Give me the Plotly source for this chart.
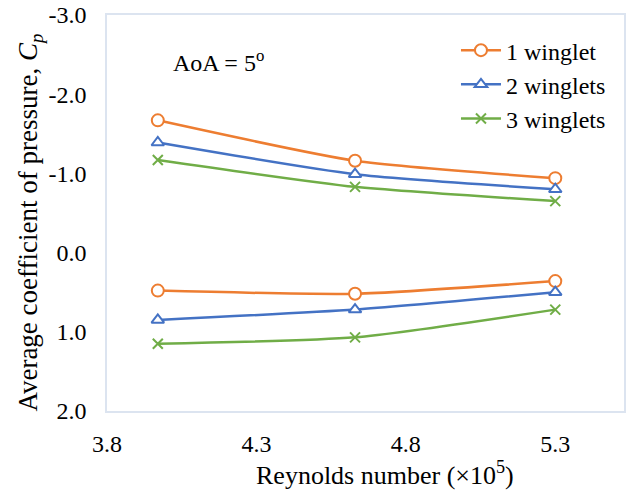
import plotly.graph_objects as go

reynolds = [3.97, 4.63, 5.30]
series_names = ["1 winglet", "2 winglets", "3 winglets"]
upper_1 = [-1.67, -1.16, -0.94]
upper_2 = [-1.39, -0.99, -0.80]
upper_3 = [-1.17, -0.83, -0.65]
lower_1 = [0.48, 0.52, 0.36]
lower_2 = [0.85, 0.72, 0.50]
lower_3 = [1.15, 1.07, 0.72]
x_ticks = [3.8, 4.3, 4.8, 5.3]
x_ticktext = ["3.8", "4.3", "4.8", "5.3"]
y_ticks = [-3.0, -2.0, -1.0, 0.0, 1.0, 2.0]
y_ticktext = ["-3.0", "-2.0", "-1.0", "0.0", "1.0", "2.0"]

colors = ["#ED7D31", "#4472C4", "#70AD47"]
symbols = ["circle", "triangle-up", "x-thin"]
sizes = [12, 11, 10]
uppers = [upper_1, upper_2, upper_3]
lowers = [lower_1, lower_2, lower_3]

fig = go.Figure()
for i in range(3):
    for j, ys in enumerate([uppers[i], lowers[i]]):
        fig.add_trace(go.Scatter(
            x=reynolds, y=ys, mode="lines+markers", name=series_names[i],
            legendgroup=series_names[i], showlegend=(j == 0),
            line=dict(color=colors[i], width=2.5, shape="spline", smoothing=0.6),
            marker=dict(symbol=symbols[i], size=sizes[i],
                        color=colors[i] if i == 2 else "white",
                        line=dict(color=colors[i], width=2)),
        ))

font_fam = "Liberation Serif, Times New Roman, serif"
fig.update_layout(
    width=626, height=492,
    margin=dict(l=107, r=0, t=15, b=81),
    paper_bgcolor="white", plot_bgcolor="white",
    font=dict(family=font_fam, color="black", size=24),
    showlegend=True,
    legend=dict(x=0.675, y=0.967, xanchor="left", yanchor="top", bgcolor="rgba(0,0,0,0)",
                font=dict(size=24), tracegroupgap=0, itemwidth=40),
    xaxis=dict(range=[3.8, 5.53], tickvals=x_ticks, ticktext=x_ticktext, showgrid=False,
               zeroline=False, showline=True, linecolor="#DCE4F0", linewidth=1.5, mirror=True,
               ticks="", ticklabelstandoff=10, tickfont=dict(size=24)),
    yaxis=dict(range=[2.0, -3.0], tickvals=y_ticks, ticktext=y_ticktext, showgrid=False,
               zeroline=False, showline=True, linecolor="#DCE4F0", linewidth=1.5, mirror=True,
               ticks="", ticklabelstandoff=14, tickfont=dict(size=24)),
    annotations=[
        dict(text="AoA = 5<sup>o</sup>", x=0.123, y=0.885, xref="paper", yref="paper",
             xanchor="left", yanchor="middle", showarrow=False, font=dict(size=24)),
        dict(text="Reynolds number (×10<sup>5</sup>)", x=0.5376, y=-0.159, xref="paper", yref="paper",
             xanchor="center", yanchor="middle", showarrow=False, font=dict(size=26)),
        dict(text="Average coefficient of pressure, <i>C<sub>p</sub></i>", x=-0.148, y=0.477,
             xref="paper", yref="paper", xanchor="center", yanchor="middle", textangle=-90,
             showarrow=False, font=dict(size=27)),
    ],
)
fig.write_html("out.html")
